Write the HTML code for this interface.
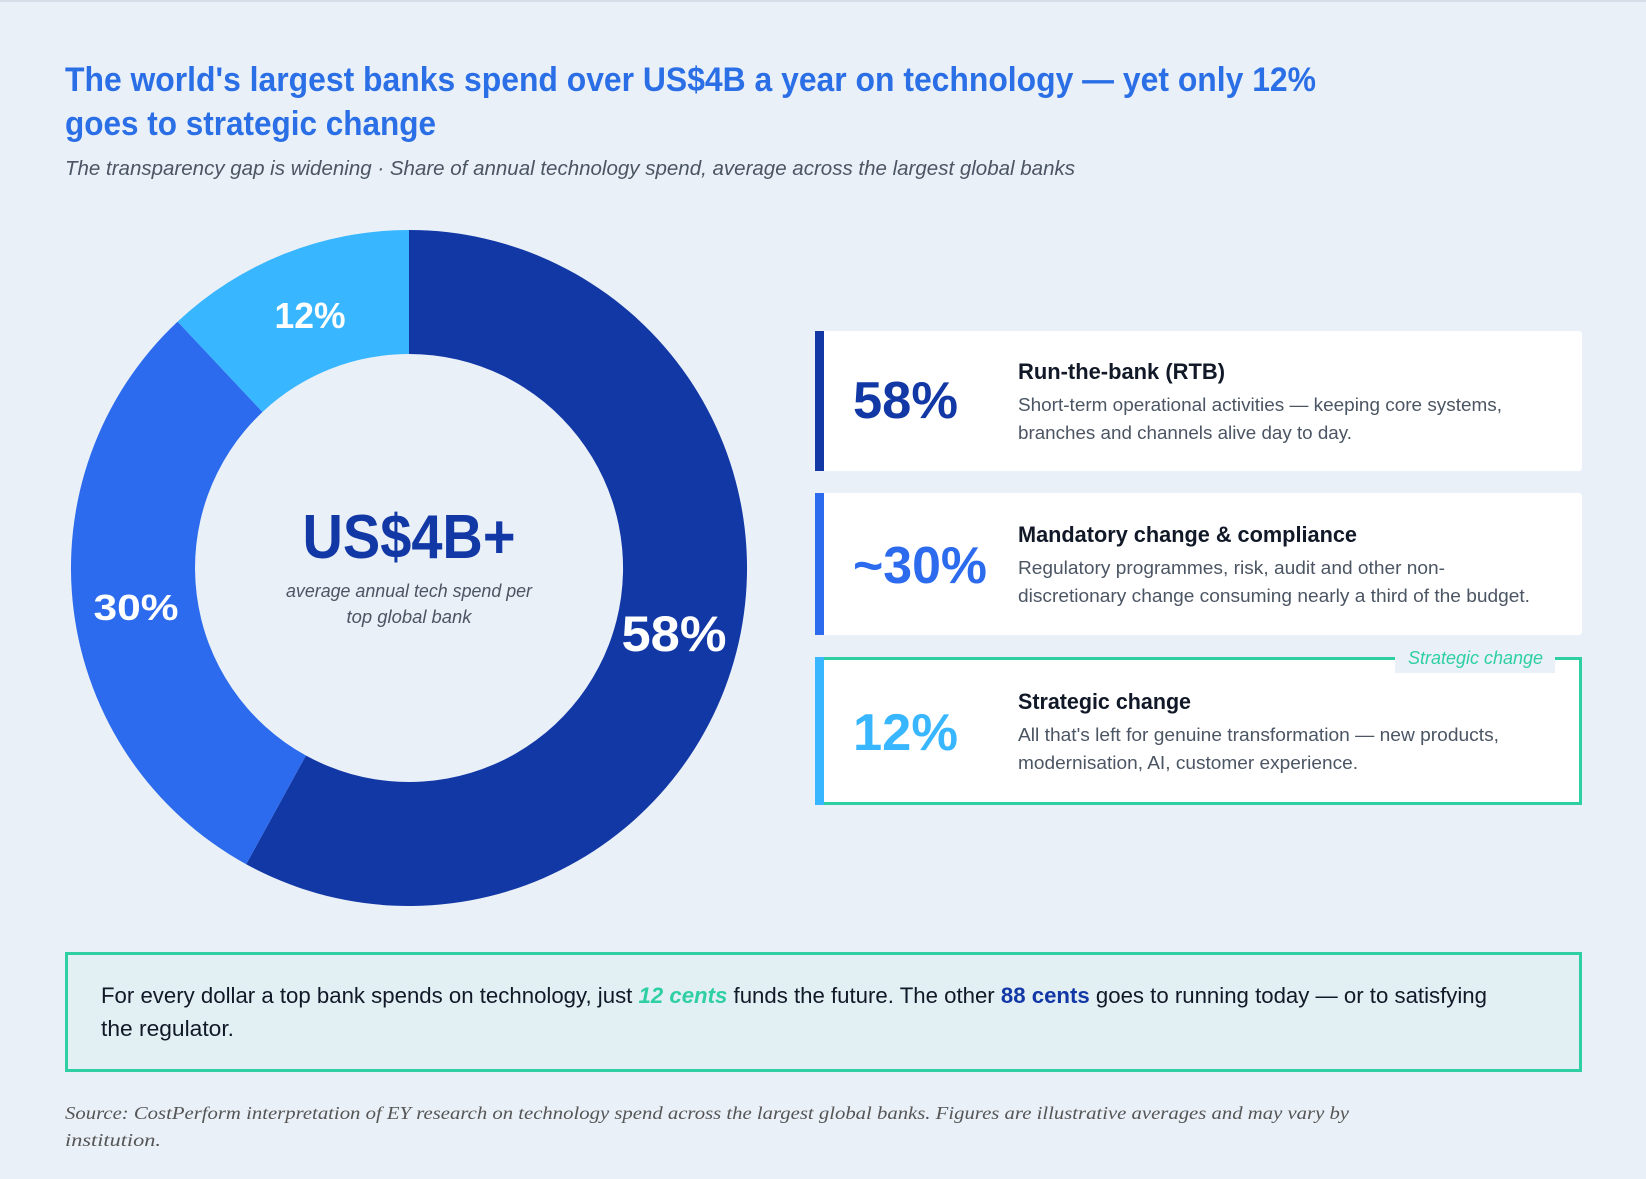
<!DOCTYPE html>
<html><head><meta charset="utf-8"><style>
html,body{margin:0;padding:0;background:#eaf0f8;}
svg{display:block;}
text{font-family:"Liberation Sans",sans-serif;}
</style></head><body>
<svg width="1646" height="1179" viewBox="0 0 1646 1179" xmlns="http://www.w3.org/2000/svg">
<rect x="0" y="0" width="1646" height="1179" fill="#eaf0f8"/>
<rect x="0" y="0" width="1646" height="2" fill="#d5dde8"/>
<text x="65" y="91" font-size="34" font-weight="bold" fill="#2b6fe6" textLength="1251" lengthAdjust="spacingAndGlyphs">The world's largest banks spend over US$4B a year on technology — yet only 12%</text>
<text x="65" y="135" font-size="34" font-weight="bold" fill="#2b6fe6" textLength="371" lengthAdjust="spacingAndGlyphs">goes to strategic change</text>
<text x="65" y="175" font-size="20" font-style="italic" fill="#4b5563" textLength="1010" lengthAdjust="spacingAndGlyphs">The transparency gap is widening · Share of annual technology spend, average across the largest global banks</text>

<path d="M409,230 A338,338 0 1 1 246.2,864.2 L305.9,755.5 A214,214 0 1 0 409,354 Z" fill="#1238a6"/>
<path d="M246.2,864.2 A338,338 0 0 1 177.6,321.6 L262.5,412 A214,214 0 0 0 305.9,755.5 Z" fill="#2c6bed"/>
<path d="M177.6,321.6 A338,338 0 0 1 409,230 L409,354 A214,214 0 0 0 262.5,412 Z" fill="#38b6ff"/>
<text x="310" y="328" font-size="36" font-weight="bold" fill="#fff" text-anchor="middle" textLength="71" lengthAdjust="spacingAndGlyphs">12%</text>
<text x="136" y="620" font-size="36" font-weight="bold" fill="#fff" text-anchor="middle" textLength="85" lengthAdjust="spacingAndGlyphs">30%</text>
<text x="674" y="651" font-size="50" font-weight="bold" fill="#fff" text-anchor="middle" textLength="105" lengthAdjust="spacingAndGlyphs">58%</text>
<text x="409" y="558" font-size="62" font-weight="bold" fill="#1238a6" text-anchor="middle" textLength="213" lengthAdjust="spacingAndGlyphs">US$4B+</text>
<text x="409" y="597" font-size="18" font-style="italic" fill="#4b5563" text-anchor="middle" textLength="246" lengthAdjust="spacingAndGlyphs">average annual tech spend per</text>
<text x="409" y="623" font-size="18" font-style="italic" fill="#4b5563" text-anchor="middle" textLength="125" lengthAdjust="spacingAndGlyphs">top global bank</text>

<!-- card 1 -->
<rect x="815" y="331" width="767" height="140" rx="3" fill="#fff"/>
<rect x="815" y="331" width="9" height="140" fill="#1238a6"/>
<text x="853" y="418" font-size="52" font-weight="bold" fill="#1238a6" textLength="105" lengthAdjust="spacingAndGlyphs">58%</text>
<text x="1018" y="379" font-size="22" font-weight="bold" fill="#111827" textLength="207" lengthAdjust="spacingAndGlyphs">Run-the-bank (RTB)</text>
<text x="1018" y="411" font-size="18" fill="#4b5563" textLength="484" lengthAdjust="spacingAndGlyphs">Short-term operational activities — keeping core systems,</text>
<text x="1018" y="439" font-size="18" fill="#4b5563" textLength="334" lengthAdjust="spacingAndGlyphs">branches and channels alive day to day.</text>

<!-- card 2 -->
<rect x="815" y="493" width="767" height="142" rx="3" fill="#fff"/>
<rect x="815" y="493" width="9" height="142" fill="#2c6bed"/>
<text x="853" y="583" font-size="52" font-weight="bold" fill="#2c6bed" textLength="134" lengthAdjust="spacingAndGlyphs">~30%</text>
<text x="1018" y="542" font-size="22" font-weight="bold" fill="#111827" textLength="339" lengthAdjust="spacingAndGlyphs">Mandatory change &amp; compliance</text>
<text x="1018" y="574" font-size="18" fill="#4b5563" textLength="427" lengthAdjust="spacingAndGlyphs">Regulatory programmes, risk, audit and other non-</text>
<text x="1018" y="602" font-size="18" fill="#4b5563" textLength="512" lengthAdjust="spacingAndGlyphs">discretionary change consuming nearly a third of the budget.</text>

<!-- card 3 -->
<rect x="816.5" y="658.5" width="764" height="145" fill="#fff" stroke="#2ecfa3" stroke-width="3"/>
<rect x="815" y="657" width="9" height="148" fill="#38b6ff"/>
<rect x="1395" y="650" width="160" height="23" fill="#eaf0f8"/>
<text x="1408" y="664" font-size="18" font-style="italic" fill="#2ecfa3" textLength="135" lengthAdjust="spacingAndGlyphs">Strategic change</text>
<text x="853" y="750" font-size="52" font-weight="bold" fill="#38b6ff" textLength="105" lengthAdjust="spacingAndGlyphs">12%</text>
<text x="1018" y="709" font-size="22" font-weight="bold" fill="#111827" textLength="173" lengthAdjust="spacingAndGlyphs">Strategic change</text>
<text x="1018" y="741" font-size="18" fill="#4b5563" textLength="481" lengthAdjust="spacingAndGlyphs">All that's left for genuine transformation — new products,</text>
<text x="1018" y="769" font-size="18" fill="#4b5563" textLength="340" lengthAdjust="spacingAndGlyphs">modernisation, AI, customer experience.</text>

<!-- callout -->
<rect x="66.5" y="953.5" width="1514" height="117" fill="#e2eff3" stroke="#2ecfa3" stroke-width="3"/>
<text x="101" y="1003" font-size="22" fill="#111827" textLength="1386" lengthAdjust="spacingAndGlyphs">For every dollar a top bank spends on technology, just <tspan fill="#2ecfa3" font-style="italic" font-weight="bold">12 cents</tspan> funds the future. The other <tspan fill="#1238a6" font-weight="bold">88 cents</tspan> goes to running today — or to satisfying</text>
<text x="101" y="1036" font-size="22" fill="#111827" textLength="133" lengthAdjust="spacingAndGlyphs">the regulator.</text>

<text x="65" y="1119" font-size="18" font-style="italic" fill="#555" style="font-family:'Liberation Serif',serif" textLength="1284" lengthAdjust="spacingAndGlyphs">Source: CostPerform interpretation of EY research on technology spend across the largest global banks. Figures are illustrative averages and may vary by</text>
<text x="65" y="1146" font-size="18" font-style="italic" fill="#555" style="font-family:'Liberation Serif',serif" textLength="96" lengthAdjust="spacingAndGlyphs">institution.</text>
</svg>
</body></html>
